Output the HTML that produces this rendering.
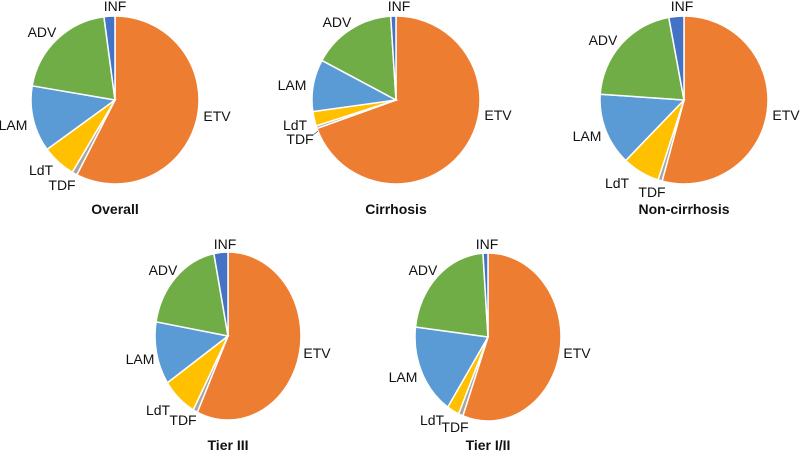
<!DOCTYPE html>
<html><head><meta charset="utf-8"><style>
html,body{margin:0;padding:0;background:#fff;}
svg{display:block;font-family:"Liberation Sans",Arial,sans-serif;}
text{font-size:14px;fill:#111;}
.t{font-weight:bold;font-size:14px;}
</style></head><body>
<svg id="c" width="800" height="451" viewBox="0 0 800 451"></svg>
<script>
const categories = ["ETV","TDF","LdT","LAM","ADV","INF"];
const colors = ["#ED7D31","#A5A5A5","#FFC000","#5B9BD5","#70AD47","#4472C4"];
const titles = ["Overall","Cirrhosis","Non-cirrhosis","Tier III","Tier I/II"];
const overallValues = [57.5,1.0,6.5,12.7,20.2,2.1];
const cirrhosisValues = [69.5,0.5,2.8,10.0,16.2,1.0];
const nonCirrhosisValues = [54.2,0.8,7.2,13.9,21.0,2.9];
const tier3Values = [56.9,1.0,7.7,12.1,19.2,3.1];
const tier12Values = [55.6,1.0,2.7,17.6,22.0,1.1];
const series = [overallValues,cirrhosisValues,nonCirrhosisValues,tier3Values,tier12Values];

// label positions listed as INF, ADV, LAM, LdT, TDF, ETV
const geoms = [
 {cx:115,cy:100,rx:84,ry:84,ty:214,lab:[[115,6],[42,32],[13,125],[41,170],[62,185],[217,116]]},
 {cx:396,cy:100,rx:84,ry:84,ty:214,lab:[[399,6],[337,22],[292,85],[295,125],[300,139],[498,115]]},
 {cx:684,cy:100,rx:84,ry:84,ty:214,lab:[[682,6],[603,40],[587,136],[617,183],[652,192],[786,115]]},
 {cx:228,cy:336,rx:73,ry:84,ty:450,lab:[[225,244],[163,270],[140,359],[158,410],[183,420],[317,353]]},
 {cx:488,cy:337,rx:73,ry:84,ty:450,lab:[[487,244],[423,270],[403,377],[432,420],[455,427],[577,353]]}
];
const svg=document.getElementById('c');
const NS='http://www.w3.org/2000/svg';
series.forEach((vals,i)=>{
  const g=geoms[i];
  const grp=document.createElementNS(NS,'g');
  
  
  svg.appendChild(grp);
  const tot=vals.reduce((a,b)=>a+b,0);
  let acc=0;
  vals.forEach((v,k)=>{
    const a0=acc/tot*2*Math.PI; acc+=v; const a1=acc/tot*2*Math.PI;
    const x0=g.cx+g.rx*Math.sin(a0), y0=g.cy-g.ry*Math.cos(a0);
    const x1=g.cx+g.rx*Math.sin(a1), y1=g.cy-g.ry*Math.cos(a1);
    const large=(a1-a0)>Math.PI?1:0;
    const p=document.createElementNS(NS,'path');
    p.setAttribute('d',`M${g.cx},${g.cy}L${x0},${y0}A${g.rx},${g.ry} 0 ${large} 1 ${x1},${y1}Z`);
    p.setAttribute('fill',colors[k]);
    p.setAttribute('stroke','#fff');
    p.setAttribute('stroke-width','1.5');
    
    
    grp.appendChild(p);
  });
  categories.forEach((c,k)=>{
    const pos=g.lab[5-k];
    const t=document.createElementNS(NS,'text');
    t.setAttribute('x',pos[0]); t.setAttribute('y',pos[1]+5);
    t.setAttribute('text-anchor','middle');
    t.textContent=c;
    
    
    grp.appendChild(t);
  });
  const tt=document.createElementNS(NS,'text');
  tt.setAttribute('x',g.cx); tt.setAttribute('y',g.ty);
  tt.setAttribute('text-anchor','middle'); tt.setAttribute('class','t');
  tt.textContent=titles[i];
  
  
  grp.appendChild(tt);
});
const ln=document.createElementNS(NS,'line');
ln.setAttribute('x1',312);ln.setAttribute('y1',136);ln.setAttribute('x2',318);ln.setAttribute('y2',131);
ln.setAttribute('stroke','#555');ln.setAttribute('stroke-width','0.8');


svg.appendChild(ln);
</script>
</body></html>
